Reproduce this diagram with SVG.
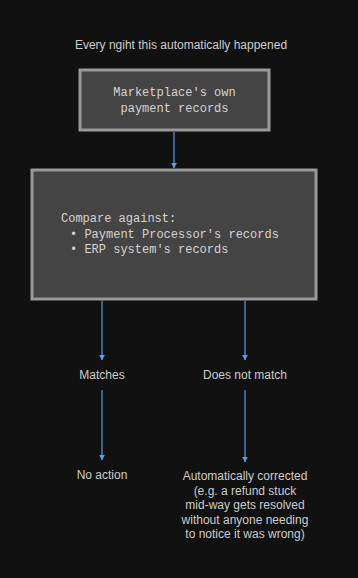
<svg xmlns="http://www.w3.org/2000/svg" width="358" height="578" viewBox="0 0 358 578">
<style>
.box{fill:#444444;stroke:#999999;stroke-width:3}
.mono{font-family:"Liberation Mono","DejaVu Sans Mono",monospace;font-size:12px;fill:#d4d4d4}
.lbl{font-family:"Liberation Sans",Arial,sans-serif;font-size:12px;fill:#cccccc;text-anchor:middle}
.edge{stroke:#5a9ee8;stroke-width:1.2;fill:none;marker-end:url(#ah)}
</style>
<defs>
<marker id="ah" viewBox="0 0 10 10" refX="9" refY="5" markerWidth="6" markerHeight="8" markerUnits="userSpaceOnUse" orient="auto">
<path d="M0,0 L10,5 L0,10 z" fill="#5a9ee8"/>
</marker>
</defs>
<rect width="358" height="578" fill="#111111"/>
<text class="lbl" x="181" y="49">Every ngiht this automatically happened</text>
<g id="edges">
<line class="edge" x1="174" y1="132" x2="174" y2="168"/>
<line class="edge" x1="102" y1="301" x2="102" y2="360"/>
<line class="edge" x1="245" y1="301" x2="245" y2="360"/>
<line class="edge" x1="102" y1="390" x2="102" y2="460"/>
<line class="edge" x1="245" y1="390" x2="245" y2="462"/>
</g>
<g id="records">
<rect class="box" x="80" y="70" width="189" height="60"/>
<text class="mono" x="174.5" y="96" text-anchor="middle">Marketplace's own</text>
<text class="mono" x="174.5" y="112" text-anchor="middle">payment records</text>
</g>
<g id="compare">
<rect class="box" x="32" y="170" width="284" height="129"/>
<text class="mono" x="61" y="222">Compare against:</text>
<text class="mono" x="70" y="238">• Payment Processor's records</text>
<text class="mono" x="70" y="253">• ERP system's records</text>
</g>
<g id="matches"><text class="lbl" x="102" y="379">Matches</text></g>
<g id="nomatch"><text class="lbl" x="245" y="379">Does not match</text></g>
<g id="noaction"><text class="lbl" x="102" y="479">No action</text></g>
<g id="corrected">
<text class="lbl" x="245" y="480">Automatically corrected</text>
<text class="lbl" x="245" y="494.5">(e.g. a refund stuck</text>
<text class="lbl" x="245" y="509">mid-way gets resolved</text>
<text class="lbl" x="245" y="523.5">without anyone needing</text>
<text class="lbl" x="245" y="538">to notice it was wrong)</text>
</g>
</svg>
